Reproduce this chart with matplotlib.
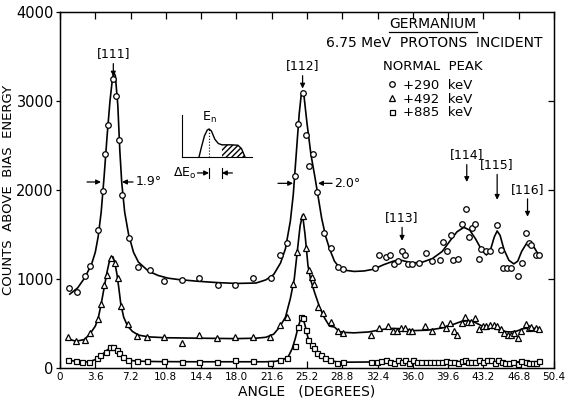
# plot.py
# channeling dips in germanium, counts vs angle for three energy windows

import matplotlib.pyplot as plt
from matplotlib.lines import Line2D

W, H = 565, 398

# measured points, +290 keV window (circles)
ang_290 = [0.9, 1.7, 2.6, 3.1, 3.9, 4.35, 4.6, 4.9, 5.45, 5.75, 6.0, 6.35, 7.05, 8.0, 9.2,
           10.6, 12.4, 14.2, 16.1, 17.9, 19.7, 21.5, 22.45, 23.2, 24.0, 24.3, 24.8, 25.1, 25.45, 25.85,
           26.2, 26.9, 27.6, 28.4, 28.9, 32.1, 32.5, 33.3, 33.7, 34.1, 34.45, 34.9, 35.2, 35.5, 35.9,
           36.6, 37.3, 38.0, 38.8, 39.1, 39.5, 39.9, 40.1, 40.6, 41.0, 41.4, 41.7, 42.0, 42.35, 42.75,
           43.0, 43.5, 43.9, 44.6, 44.95, 45.2, 45.6, 46.0, 46.7, 47.1, 47.5, 47.8, 48.1, 48.6, 48.9]
cnt_290 = [900, 850, 1030, 1150, 1550, 1990, 2400, 2730, 3245, 3060, 2560, 1940, 1460, 1140, 1100,
           980, 990, 1015, 935, 935, 1015, 1015, 1275, 1410, 2155, 2740, 3095, 2615, 2275, 2410,
           1975, 1515, 1345, 1130, 1110, 1120, 1270, 1245, 1270, 1165, 1205, 1320, 1270, 1165, 1165,
           1175, 1290, 1205, 1215, 1415, 1315, 1495, 1215, 1225, 1615, 1785, 1470, 1570, 1615, 1225,
           1340, 1310, 1320, 1605, 1325, 1120, 1120, 1120, 1035, 1185, 1515, 1400, 1380, 1270, 1270]

# measured points, +492 keV window (triangles)
ang_492 = [0.8, 1.6, 2.5, 3.1, 3.9, 4.2, 4.45, 4.8, 5.25, 5.6, 5.9, 6.2, 6.95, 7.85, 8.9,
           10.6, 12.4, 14.2, 16.05, 17.85, 19.7, 21.45, 22.4, 23.2, 23.8, 24.2, 24.8, 25.1, 25.4, 25.7,
           25.9, 26.35, 26.85, 27.6, 28.4, 28.9, 31.7, 32.5, 33.5, 34.0, 34.4, 34.8, 35.2, 35.6, 35.9,
           37.2, 38.0, 39.0, 39.4, 39.8, 40.2, 40.5, 41.0, 41.3, 41.6, 41.9, 42.35, 42.7, 43.2, 43.5,
           43.9, 44.3, 44.6, 45.0, 45.3, 45.7, 46.0, 46.3, 46.7, 47.0, 47.5, 47.8, 48.1, 48.6, 48.9]
cnt_492 = [350, 305, 320, 395, 550, 720, 930, 1045, 1240, 1175, 1010, 700, 495, 360, 350,
           345, 285, 370, 340, 345, 345, 350, 485, 570, 945, 1305, 1710, 1345, 1100, 1025,
           945, 690, 615, 520, 415, 390, 370, 455, 470, 415, 415, 455, 445, 415, 415,
           470, 415, 495, 455, 510, 415, 370, 510, 575, 515, 515, 560, 435, 470, 475,
           485, 485, 470, 435, 390, 370, 370, 390, 340, 415, 500, 445, 465, 455, 440]

# measured points, +885 keV window (squares)
ang_885 = [0.8, 1.6, 2.2, 3.0, 3.75, 4.1, 4.7, 5.1, 5.45, 5.8, 6.0, 6.45, 6.95, 7.85, 8.9,
           10.6, 12.4, 14.2, 16.05, 17.85, 19.7, 21.45, 22.45, 23.15, 24.0, 24.3, 24.6, 24.8, 25.05, 25.35,
           25.7, 25.95, 26.25, 26.6, 27.05, 27.55, 28.3, 28.9, 31.7, 32.3, 32.8, 33.3, 33.7, 34.1, 34.45,
           34.9, 35.2, 35.6, 36.0, 36.4, 36.8, 37.3, 37.8, 38.2, 38.55, 39.0, 39.4, 39.8, 40.2, 40.6,
           41.0, 41.35, 41.6, 41.9, 42.35, 42.75, 43.2, 43.6, 44.0, 44.4, 44.7, 45.05, 45.4, 45.8, 46.2,
           46.7, 47.0, 47.5, 47.9, 48.25, 48.6, 48.9]
cnt_885 = [90, 75, 65, 65, 110, 145, 185, 240, 240, 200, 165, 125, 90, 80, 80,
           80, 65, 70, 65, 85, 80, 55, 90, 110, 245, 465, 575, 560, 425, 315,
           260, 220, 170, 145, 110, 90, 60, 65, 70, 70, 80, 95, 70, 60, 85,
           70, 85, 55, 85, 70, 70, 70, 70, 70, 70, 70, 80, 70, 70, 60,
           80, 95, 70, 70, 70, 85, 70, 85, 85, 60, 95, 70, 55, 55, 70,
           45, 80, 70, 55, 55, 60, 80]

# hand drawn curves
fit_290_x = [1.0, 1.8, 2.5, 3.2, 3.6, 3.9, 4.2, 4.5, 4.8, 5.1, 5.35, 5.5, 5.65, 5.9, 6.1,
             6.3, 6.6, 7.0, 7.5, 8.0, 9.0, 10.0, 11.0, 12.0, 14.0, 16.0, 18.0, 20.0, 21.0, 21.8,
             22.5, 23.0, 23.5, 23.8, 24.1, 24.4, 24.6, 24.75, 24.9, 25.2, 25.6, 26.0, 26.3, 26.7, 27.1,
             27.5, 28.0, 28.5, 29.0, 30.0, 31.0, 32.0, 33.0, 34.0, 34.6, 35.2, 36.0, 37.0, 38.0, 39.0,
             39.8, 40.5, 41.2, 41.8, 42.4, 43.0, 43.5, 43.9, 44.3, 44.6, 44.9, 45.3, 45.8, 46.3, 46.7,
             47.1, 47.6, 48.0, 48.4, 48.9]
fit_290_y = [830, 900, 1010, 1160, 1300, 1480, 1750, 2150, 2600, 3000, 3250, 3320, 3280, 2950, 2450,
             2080, 1750, 1500, 1300, 1190, 1090, 1040, 1010, 995, 975, 960, 950, 955, 990, 1050,
             1180, 1340, 1650, 1950, 2400, 2850, 3060, 3110, 3050, 2750, 2400, 2150, 1950, 1680, 1480,
             1340, 1200, 1130, 1100, 1085, 1090, 1110, 1160, 1200, 1215, 1200, 1180, 1190, 1230, 1310,
             1430, 1530, 1580, 1550, 1450, 1330, 1270, 1320, 1470, 1540, 1490, 1330, 1210, 1170, 1200,
             1310, 1400, 1410, 1350, 1260]

fit_492_x = [0.8, 1.6, 2.5, 3.1, 3.6, 3.9, 4.2, 4.5, 4.8, 5.0, 5.2, 5.4, 5.6, 5.8, 6.0,
             6.2, 6.5, 6.9, 7.4, 8.0, 9.0, 10.8, 14.0, 18.0, 20.0, 21.0, 21.8, 22.4, 23.0, 23.5,
             23.9, 24.2, 24.5, 24.75, 25.0, 25.3, 25.6, 26.0, 26.5, 27.0, 27.5, 28.0, 28.5, 29.0, 30.0,
             31.5, 33.0, 34.0, 35.0, 36.0, 37.5, 39.0, 40.0, 41.0, 41.6, 42.3, 43.0, 43.8, 44.5, 45.2,
             46.0, 46.6, 47.2, 47.8, 48.4, 48.9]
fit_492_y = [330, 300, 320, 390, 470, 560, 720, 900, 1080, 1180, 1245, 1250, 1180, 1060, 900,
             720, 570, 470, 410, 370, 350, 340, 335, 330, 335, 345, 380, 460, 570, 780,
             1000, 1300, 1600, 1720, 1500, 1150, 980, 840, 680, 560, 470, 460, 410, 400, 395,
             405, 435, 445, 440, 420, 425, 450, 485, 525, 530, 515, 475, 460, 440, 410,
             405, 415, 440, 450, 445, 440]

fit_885_x = [0.8, 1.6, 2.5, 3.0, 3.6, 4.2, 4.8, 5.2, 5.5, 5.8, 6.1, 6.5, 7.0, 7.6, 8.5,
             10.0, 14.0, 18.0, 21.0, 22.0, 22.8, 23.3, 23.7, 24.0, 24.3, 24.55, 24.75, 25.0, 25.3, 25.7,
             26.2, 26.8, 27.5, 28.3, 29.0, 32.0, 36.0, 40.0, 44.0, 46.0, 48.9]
fit_885_y = [90, 75, 68, 70, 95, 140, 200, 235, 235, 210, 160, 115, 90, 80, 75,
             72, 70, 70, 70, 75, 95, 130, 220, 330, 460, 550, 575, 480, 340, 240,
             165, 115, 85, 68, 65, 68, 70, 72, 72, 68, 70]

x_ticks = [0, 3.6, 7.2, 10.8, 14.4, 18.0, 21.6, 25.2, 28.8, 32.4, 36.0, 39.6, 43.2, 46.8, 50.4]
x_ticklabels = ["0", "3.6", "7.2", "10.8", "14.4", "18.0", "21.6", "25.2", "28.8",
                "32.4", "36.0", "39.6", "43.2", "46.8", "50.4"]
y_ticks = [0, 1000, 2000, 3000, 4000]

# axial directions marked with arrows
peak_names = ["[111]", "[112]", "[113]", "[114]", "[115]", "[116]"]
peak_ang = [5.44, 24.75, 34.9, 41.5, 44.6, 47.7]
peak_text_y = [3530, 3395, 1690, 2395, 2285, 2010]
peak_tip_y = [3275, 3140, 1430, 2090, 1890, 1700]

# schematic energy spectrum for the inset
inset_x = [0.243, 0.28, 0.32, 0.36, 0.386, 0.42, 0.47, 0.52, 0.571, 0.7, 0.8, 0.85, 0.88, 0.9]
inset_y = [0.0, 0.25, 0.5, 0.64, 0.667, 0.62, 0.42, 0.32, 0.29, 0.29, 0.28, 0.2, 0.08, 0.0]


def fx(px):
    return px / W


def fy(py):
    return 1 - py / H


plt.rcParams['font.family'] = 'DejaVu Sans'
fig = plt.figure(figsize=(W / 100, H / 100), dpi=100)
ax = fig.add_axes([fx(60), fy(368), fx(554) - fx(60), fy(12) - fy(368)])

ax.plot(fit_290_x, fit_290_y, color='black', lw=1.2)
ax.plot(fit_492_x, fit_492_y, color='black', lw=1.2)
ax.plot(fit_885_x, fit_885_y, color='black', lw=1.2)

mk = dict(ls='none', mfc='white', mec='black', mew=0.9, ms=4)
ax.plot(ang_290, cnt_290, marker='o', label='+290  keV', **mk)
ax.plot(ang_492, cnt_492, marker='^', label='+492  keV', **mk)
ax.plot(ang_885, cnt_885, marker='s', label='+885  keV', **dict(mk, ms=3.6))

ax.set_xlim(0, 50.4)
ax.set_ylim(0, 4000)
ax.set_xticks(x_ticks)
ax.set_xticklabels(x_ticklabels, fontsize=7.5)
ax.set_yticks(y_ticks)
ax.set_yticklabels([str(v) for v in y_ticks], fontsize=10.5)
ax.tick_params(axis='x', direction='in', top=True, length=5, width=0.9, pad=3)
ax.tick_params(axis='y', direction='out', length=3, width=0.9, pad=1.5)
for s in ax.spines.values():
    s.set_linewidth(1.0)

# inward ticks on the right edge
ax_r = ax.twinx()
ax_r.set_ylim(0, 4000)
ax_r.set_yticks([1000, 2000, 3000])
ax_r.set_yticklabels([])
ax_r.tick_params(axis='y', direction='in', length=4, width=0.9)

ax.set_xlabel("ANGLE   (DEGREES)", fontsize=10, labelpad=2)
ax.set_ylabel("COUNTS  ABOVE  BIAS  ENERGY", fontsize=9.5)
ax.yaxis.set_label_coords((15 - 60) / 494, 0.5)

arw = dict(arrowstyle='-|>', color='black', lw=0.9, mutation_scale=7, shrinkA=0, shrinkB=0)
for name, a, ty, tip in zip(peak_names, peak_ang, peak_text_y, peak_tip_y):
    ax.text(a, ty, name, ha='center', va='center', fontsize=9)
    ax.annotate('', xy=(a, tip), xytext=(a, ty - 110), arrowprops=arw)

# widths of the two big dips
ax.annotate('', xy=(4.18, 2090), xytext=(2.76, 2090), arrowprops=arw)
ax.annotate('', xy=(6.33, 2090), xytext=(7.45, 2090), arrowprops=arw)
ax.text(7.7, 2090, "1.9°", ha='left', va='center', fontsize=9)
ax.annotate('', xy=(23.78, 2075), xytext=(22.24, 2075), arrowprops=arw)
ax.annotate('', xy=(26.33, 2075), xytext=(27.76, 2075), arrowprops=arw)
ax.text(27.95, 2075, "2.0°", ha='left', va='center', fontsize=9)

# title block
fig.text(fx(433), fy(24), "GERMANIUM", ha='center', va='center', fontsize=10)
fig.add_artist(Line2D([fx(389), fx(477)], [fy(32), fy(32)], color='black', lw=0.9))
fig.text(fx(434), fy(43), "6.75 MeV  PROTONS  INCIDENT", ha='center', va='center', fontsize=10)
fig.text(fx(433), fy(66), "NORMAL  PEAK", ha='center', va='center', fontsize=9.5)

leg = ax.legend(loc='upper left', bbox_to_anchor=(fx(387), fy(79)),
                bbox_transform=fig.transFigure, frameon=False, fontsize=9.5,
                handlelength=0.8, handletextpad=0.4,
                labelspacing=0.05, borderpad=0, borderaxespad=0)

# inset sketch of the energy spectrum
ins = fig.add_axes([fx(182), fy(157), fx(252) - fx(182), fy(115) - fy(157)])
ins.plot(inset_x, inset_y, color='black', lw=1.0)
ins.fill_between(inset_x[8:], inset_y[8:], 0, facecolor='white', edgecolor='black',
                 hatch='//////', lw=0)
ins.plot([inset_x[4], inset_x[4]], [0, inset_y[4]], color='black', lw=0.8, ls=':')
ins.set_xlim(0, 1)
ins.set_ylim(0, 1)
ins.set_xticks([])
ins.set_yticks([])
ins.spines['top'].set_visible(False)
ins.spines['right'].set_visible(False)
ins.patch.set_alpha(0)
ins.text(inset_x[4], 0.95, r"E$_\mathregular{n}$", ha='center', va='center', fontsize=9)
ins.text(0.21, -0.38, r"$\Delta$E$_\mathregular{o}$", ha='right', va='center', fontsize=9,
         clip_on=False)
ins.annotate('', xy=(inset_x[4], -0.38), xytext=(0.22, -0.38), arrowprops=arw,
             annotation_clip=False)
ins.annotate('', xy=(inset_x[8], -0.38), xytext=(0.72, -0.38), arrowprops=arw,
             annotation_clip=False)
ins.plot([inset_x[4], inset_x[4]], [-0.26, -0.5], color='black', lw=0.8, clip_on=False)
ins.plot([inset_x[8], inset_x[8]], [-0.26, -0.5], color='black', lw=0.8, clip_on=False)

fig.savefig("out.png", dpi=100)
